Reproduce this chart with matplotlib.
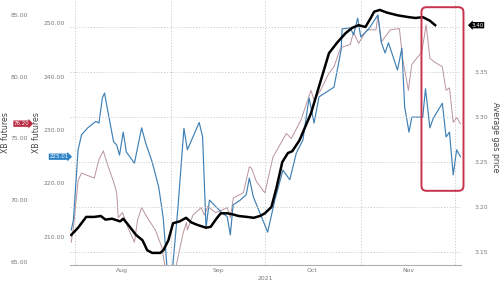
import numpy as np
import pandas as pd
import matplotlib
matplotlib.use("Agg")
import matplotlib.pyplot as plt
import matplotlib.dates as mdates
from matplotlib.patches import FancyBboxPatch
from matplotlib.ticker import FixedLocator, FuncFormatter

# days counted from 1 Aug 2021
start = pd.Timestamp("2021-08-01")

# XB (RBOB) futures, inner left axis
xb_days = [-1.2, -0.5, 1.0, 2.1, 4.1, 6.7, 7.7, 8.8, 9.5, 10.3,
           12.4, 13.4, 14.3, 15.5, 16.5, 19.1, 21.4, 22.7, 24.8, 26.9,
           27.9, 28.4, 29.8, 31.3, 33.1, 35.0, 36.1, 39.9, 41.0, 42.1,
           43.2, 45.2, 47.3, 48.9, 49.9, 50.8, 53.1, 55.0, 56.0, 57.3,
           59.4, 61.9, 64.2, 66.8, 69.0, 71.1, 73.2, 75.2, 76.8, 78.4,
           83.2, 85.5, 85.8, 88.4, 89.5, 90.8, 91.8, 94.4, 97.3, 98.4,
           99.6, 100.7, 103.6, 105.0, 105.9, 107.3, 108.2, 111.7, 112.6, 114.0,
           115.1, 118.0, 119.2, 120.3, 121.5, 122.6, 123.8]
xb_vals = [211.3, 213.2, 226.3, 229.1, 230.4, 231.6, 231.3, 236.0, 236.9, 234.3,
           227.8, 227.2, 225.3, 229.6, 225.9, 223.8, 230.4, 227.6, 224.0, 219.3,
           215.4, 213.2, 202.5, 203.8, 215.7, 230.3, 226.3, 231.4, 228.7, 211.7,
           216.9, 215.7, 214.5, 213.8, 210.4, 216.0, 216.9, 217.9, 221.0, 217.5,
           214.5, 210.9, 216.9, 222.5, 220.7, 225.7, 228.1, 236.0, 231.3, 236.2,
           238.0, 245.0, 248.9, 249.1, 247.8, 250.9, 247.4, 248.9, 251.5, 246.4,
           244.4, 246.3, 241.2, 245.3, 234.3, 229.6, 232.4, 232.4, 237.7, 230.4,
           232.2, 235.0, 228.7, 229.6, 221.6, 226.3, 225.01]

# crude futures, outer left axis
cl_days = [-1.2, -0.5, 1.0, 2.1, 4.1, 6.2, 7.7, 9.1, 10.3, 12.4,
           13.4, 13.9, 15.3, 17.0, 19.1, 20.1, 21.4, 23.2, 25.8, 27.9,
           29.4, 31.6, 32.6, 34.7, 35.8, 36.1, 37.9, 40.5, 41.6, 42.6,
           45.2, 48.9, 49.9, 50.9, 54.1, 56.0, 56.7, 58.3, 61.0, 63.6,
           67.9, 69.5, 72.6, 75.8, 76.8, 78.9, 81.6, 83.2, 85.1, 85.8,
           88.4, 89.5, 91.1, 93.8, 96.7, 97.3, 98.4, 101.3, 104.2, 105.3,
           107.1, 108.2, 111.4, 112.8, 114.0, 115.4, 118.0, 119.2, 120.3, 121.5,
           122.6, 123.8]
cl_vals = [66.6, 67.8, 71.6, 72.2, 72.0, 71.8, 73.3, 74.0, 73.0, 71.5,
           70.6, 68.6, 69.0, 67.8, 66.6, 68.4, 69.4, 68.6, 67.6, 66.2,
           63.9, 64.2, 64.8, 67.3, 68.2, 67.6, 68.8, 69.4, 68.8, 69.5,
           69.0, 69.4, 68.6, 70.2, 70.6, 72.7, 72.6, 71.5, 70.6, 73.5,
           75.4, 75.0, 76.5, 78.9, 78.1, 78.9, 80.3, 80.8, 82.2, 82.4,
           82.6, 83.6, 82.7, 83.8, 83.8, 85.0, 82.8, 83.8, 83.9, 81.4,
           78.9, 81.0, 82.0, 84.2, 81.5, 81.2, 80.8, 78.9, 79.1, 76.3,
           76.7, 76.2]

# average gas price, right axis
gas_days = [-1.2, 1.0, 3.6, 6.2, 8.3, 9.8, 11.9, 14.5, 15.5, 17.6,
            19.6, 21.7, 23.2, 24.8, 27.4, 28.4, 30.0, 31.5, 33.6, 35.7,
            37.3, 39.4, 42.1, 43.6, 45.2, 46.8, 48.9, 50.5, 52.6, 55.3,
            57.4, 59.4, 61.0, 63.1, 64.7, 66.6, 68.4, 69.8, 72.1, 75.8,
            79.0, 81.6, 84.3, 86.9, 89.0, 91.1, 93.3, 95.0, 96.1, 97.9,
            100.2, 103.6, 107.1, 109.4, 111.7, 114.0, 115.7]
gas_vals = [3.169, 3.177, 3.189, 3.189, 3.190, 3.186, 3.187, 3.184, 3.187, 3.178,
            3.169, 3.163, 3.152, 3.149, 3.149, 3.152, 3.163, 3.182, 3.184, 3.188,
            3.183, 3.180, 3.177, 3.178, 3.186, 3.193, 3.193, 3.192, 3.190, 3.189,
            3.188, 3.190, 3.193, 3.200, 3.221, 3.250, 3.260, 3.262, 3.274, 3.304,
            3.341, 3.371, 3.383, 3.393, 3.399, 3.402, 3.400, 3.410, 3.417, 3.419,
            3.416, 3.413, 3.411, 3.410, 3.411, 3.407, 3.402]

cl_ticks = [65, 70, 75, 80, 85]
xb_ticks = [210, 220, 230, 240, 250]
gas_ticks = [3.15, 3.20, 3.25, 3.30, 3.35, 3.40]


def to_dates(days):
    return start + pd.to_timedelta(np.array(days), unit="D")


grey = "#7a7a7a"
fs = 4.4

fig = plt.figure(figsize=(5.0, 2.84), dpi=100)
ax_cl = fig.add_axes([0.14, 0.067, 0.782, 0.933])
ax_xb = ax_cl.twinx()
ax_gas = ax_cl.twinx()

ax_cl.plot(to_dates(cl_days), cl_vals, color="#b9949d", lw=0.7)
ax_xb.plot(to_dates(xb_days), xb_vals, color="#3f80b5", lw=0.85)
ax_gas.plot(to_dates(gas_days), gas_vals, color="black", lw=1.8)

ax_cl.set_xlim(start - pd.Timedelta(days=1.6), start + pd.Timedelta(days=124.0))
ax_cl.set_ylim(64.76, 86.21)
ax_xb.set_ylim(204.77, 254.3)
ax_gas.set_ylim(3.1356, 3.43)

for a in (ax_cl, ax_xb, ax_gas):
    for s in a.spines.values():
        s.set_visible(False)
    a.tick_params(axis="y", length=0, labelsize=fs, labelcolor=grey)
ax_cl.spines["bottom"].set_visible(True)
ax_cl.spines["bottom"].set_color("#b0b0b0")
ax_cl.spines["bottom"].set_linewidth(0.8)

# outer left axis: crude
ax_cl.yaxis.set_major_locator(FixedLocator(cl_ticks))
ax_cl.yaxis.set_major_formatter(FuncFormatter(lambda v, p: f"{v:.2f}"))
ax_cl.spines["left"].set_position(("outward", 28))
ax_cl.tick_params(axis="y", pad=2.5)
ax_cl.set_ylabel("XB futures", fontsize=5.6, color="#444444", va="center")
ax_cl.yaxis.set_label_coords(-0.165, 0.5)

# inner left axis: XB
ax_xb.yaxis.tick_left()
ax_xb.yaxis.set_label_position("left")
ax_xb.yaxis.set_major_locator(FixedLocator(xb_ticks))
ax_xb.yaxis.set_major_formatter(FuncFormatter(lambda v, p: f"{v:.2f}"))
ax_xb.tick_params(axis="y", pad=3.6)
ax_xb.set_ylabel("XB futures", fontsize=5.6, color="#444444", va="center")
ax_xb.yaxis.set_label_coords(-0.085, 0.5)

# right axis: gas price (top tick sits under the last-value tag)
ax_gas.yaxis.set_major_locator(FixedLocator(gas_ticks))
ax_gas.yaxis.set_major_formatter(
    FuncFormatter(lambda v, p: "" if v > 3.39 else f"{v:.2f}"))
ax_gas.tick_params(axis="y", pad=10)
ax_gas.set_ylabel("Average gas price", fontsize=5.6, color="#444444",
                  rotation=270, va="center")
ax_gas.yaxis.set_label_coords(1.087, 0.483)
ax_gas.grid(axis="y", linestyle=(0, (1.5, 2)), color="#c8c8c8", lw=0.6)

# x axis
ax_cl.xaxis.set_major_locator(mdates.MonthLocator())
ax_cl.xaxis.set_major_formatter(plt.NullFormatter())
ax_cl.xaxis.set_minor_locator(mdates.MonthLocator(bymonthday=16))
ax_cl.xaxis.set_minor_formatter(mdates.DateFormatter("%b"))
ax_cl.tick_params(axis="x", which="both", length=0, pad=2,
                  labelsize=fs, labelcolor=grey)
ax_cl.grid(axis="x", which="major", linestyle=(0, (1.5, 2)), color="#c8c8c8", lw=0.6)
ax_cl.set_xlabel("2021", fontsize=fs, color=grey, labelpad=2.5)
for a in (ax_xb, ax_gas):
    a.xaxis.set_visible(False)

# last-value tags
ax_cl.annotate(f"{cl_vals[-1]:.2f}", xy=(-0.123, cl_vals[-1]),
               xycoords=ax_cl.get_yaxis_transform(), ha="center", va="center",
               fontsize=4.0, color="white", annotation_clip=False,
               bbox=dict(boxstyle="rarrow,pad=0.12", fc="#b8283f", ec="none"))
ax_xb.annotate(f"{xb_vals[-1]:.2f}", xy=(-0.028, xb_vals[-1]),
               xycoords=ax_xb.get_yaxis_transform(), ha="center", va="center",
               fontsize=4.0, color="white", annotation_clip=False,
               bbox=dict(boxstyle="rarrow,pad=0.12", fc="#2b82c6", ec="none"))
ax_gas.annotate(f"{gas_vals[-1]:.2f}", xy=(1.042, gas_vals[-1]),
                xycoords=ax_gas.get_yaxis_transform(), ha="center", va="center",
                fontsize=4.0, color="white", annotation_clip=False,
                bbox=dict(boxstyle="larrow,pad=0.12", fc="black", ec="none"))

# red highlight box over the last weeks
x0 = mdates.date2num(start + pd.Timedelta(days=111.3))
x1 = mdates.date2num(start + pd.Timedelta(days=124.8))
to_fig = ax_gas.transData + fig.transFigure.inverted()
(fx0, fy0), (fx1, fy1) = to_fig.transform([(x0, 3.218), (x1, 3.422)])
box = FancyBboxPatch((fx0, fy0), fx1 - fx0, fy1 - fy0,
                     boxstyle="round,pad=0,rounding_size=0.01",
                     mutation_aspect=500 / 284, transform=fig.transFigure,
                     fill=False, ec="#c8324a", lw=1.4, zorder=10)
fig.patches.append(box)

fig.savefig("out.png", dpi=100)
